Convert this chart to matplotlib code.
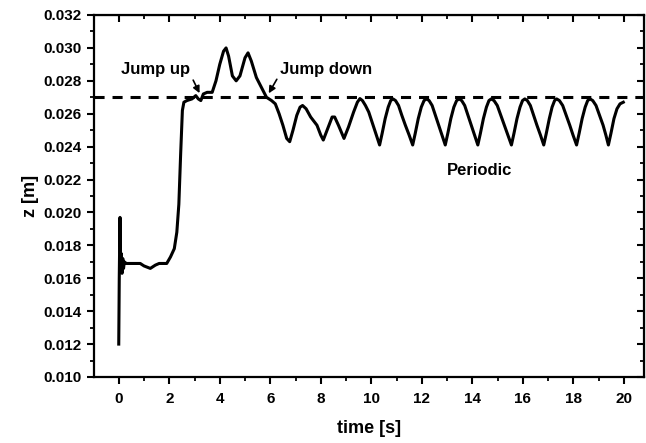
import matplotlib
matplotlib.use("Agg")
import matplotlib.pyplot as plt
from matplotlib.ticker import MultipleLocator, FormatStrFormatter

plt.rcParams['font.family'] = ['Liberation Sans', 'DejaVu Sans']

time_s = [0.00, 0.02, 0.05, 0.08, 0.10, 0.13, 0.16, 0.19, 0.22, 0.30, 0.60, 0.85, 1.00, 1.25, 1.45,
          1.60, 1.90, 2.05, 2.20, 2.30, 2.38, 2.45, 2.52, 2.58, 2.70, 2.90, 3.05, 3.15, 3.25, 3.35,
          3.50, 3.70, 3.85, 4.00, 4.15, 4.25, 4.35, 4.50, 4.65, 4.80, 5.00, 5.12, 5.25, 5.45, 5.65,
          5.85, 6.05, 6.20, 6.35, 6.50, 6.65, 6.77, 6.90, 7.05, 7.18, 7.28, 7.42, 7.60, 7.85, 8.00, 8.10,
          8.30, 8.45, 8.55, 8.70, 8.92, 9.10, 9.30, 9.45, 9.55,
          9.65, 9.77, 9.90, 10.03, 10.18, 10.33,
          10.43, 10.55, 10.67, 10.77, 10.86, 10.96, 11.08, 11.21, 11.35, 11.50, 11.64,
          11.74, 11.86, 11.98, 12.09, 12.19, 12.29, 12.41, 12.54, 12.67, 12.80, 12.93,
          13.03, 13.15, 13.27, 13.38, 13.48, 13.58, 13.70, 13.83, 13.96, 14.09, 14.22,
          14.32, 14.44, 14.56, 14.66, 14.75, 14.86, 14.99, 15.13, 15.27, 15.41, 15.55,
          15.65, 15.77, 15.89, 15.99, 16.08, 16.18, 16.30, 16.43, 16.56, 16.70, 16.83,
          16.93, 17.05, 17.16, 17.26, 17.34, 17.45, 17.58, 17.72, 17.86, 17.99, 18.13,
          18.23, 18.35, 18.47, 18.57, 18.66, 18.77, 18.90, 19.04, 19.18, 19.29, 19.39,
          19.49, 19.61, 19.73, 19.85, 19.98]

z_m = [0.0120, 0.0160, 0.0197, 0.0164, 0.0175, 0.0163, 0.0172, 0.0166, 0.0170, 0.0169, 0.0169, 0.0169, 0.01675, 0.0166, 0.0168,
       0.0169, 0.0169, 0.0173, 0.0178, 0.0188, 0.0205, 0.0235, 0.0262, 0.0267, 0.0268, 0.0269, 0.0271, 0.0269, 0.0268, 0.0272,
       0.0273, 0.0273, 0.0280, 0.0290, 0.0298, 0.0300, 0.0295, 0.0283, 0.0280, 0.0283, 0.0294, 0.0297, 0.0292, 0.0282, 0.0276,
       0.0270, 0.0268, 0.0266, 0.0260, 0.0253, 0.0245, 0.0243, 0.0250, 0.0259, 0.0264, 0.0265, 0.0263, 0.0258, 0.0253, 0.0247, 0.0244,
       0.0252, 0.0258, 0.0258, 0.0253, 0.0245, 0.0252, 0.0261, 0.0267, 0.02692,
       0.0268, 0.0265, 0.0261, 0.0255, 0.0248, 0.0241,
       0.0248, 0.0257, 0.0264, 0.02680, 0.02690, 0.02680, 0.0265, 0.0259, 0.0253, 0.0247, 0.0241,
       0.0248, 0.0257, 0.0264, 0.02680, 0.02690, 0.02680, 0.0265, 0.0259, 0.0253, 0.0247, 0.0241,
       0.0248, 0.0257, 0.0264, 0.02680, 0.02690, 0.02680, 0.0265, 0.0259, 0.0253, 0.0247, 0.0241,
       0.0248, 0.0257, 0.0264, 0.02680, 0.02690, 0.02680, 0.0265, 0.0259, 0.0253, 0.0247, 0.0241,
       0.0248, 0.0257, 0.0264, 0.02680, 0.02690, 0.02680, 0.0265, 0.0259, 0.0253, 0.0247, 0.0241,
       0.0248, 0.0257, 0.0264, 0.02680, 0.02690, 0.02680, 0.0265, 0.0259, 0.0253, 0.0247, 0.0241,
       0.0248, 0.0257, 0.0264, 0.02680, 0.02690, 0.02680, 0.0265, 0.0259, 0.0253, 0.0247, 0.0241,
       0.0248, 0.0257, 0.0263, 0.0266, 0.0267]

threshold = 0.027
x_ticks = list(range(0, 21, 2))
y_ticks = [0.010, 0.012, 0.014, 0.016, 0.018, 0.020, 0.022, 0.024, 0.026, 0.028, 0.030, 0.032]

fig = plt.figure(figsize=(6.46, 4.43), dpi=100)
ax = fig.add_axes([94 / 646, 1 - 377 / 443, (644 - 94) / 646, (377 - 15) / 443])

ax.plot(time_s, z_m, color='black', lw=2.2, solid_joinstyle='round')
ax.axhline(threshold, color='black', lw=2.2, dashes=(3.3, 2.6))

ax.set_xlim(-0.98, 20.8)
ax.set_ylim(0.010, 0.032)
ax.set_xticks(x_ticks)
ax.set_yticks(y_ticks)
ax.xaxis.set_minor_locator(MultipleLocator(1))
ax.yaxis.set_minor_locator(MultipleLocator(0.001))
ax.yaxis.set_major_formatter(FormatStrFormatter('%.3f'))

for s in ax.spines.values():
    s.set_linewidth(1.6)

ax.tick_params(which='major', direction='out', length=5, width=1.5, labelsize=11, pad=4)
ax.tick_params(which='minor', direction='out', length=3, width=1.3)
ax.tick_params(axis='x', which='major', pad=6)
for lab in ax.get_xticklabels() + ax.get_yticklabels():
    lab.set_fontweight('bold')

top = ax.secondary_xaxis('top')
top.set_xticks(x_ticks)
top.xaxis.set_minor_locator(MultipleLocator(1))
top.tick_params(which='major', direction='in', length=5, width=1.5, labeltop=False)
top.tick_params(which='minor', direction='in', length=3, width=1.3)
right = ax.secondary_yaxis('right')
right.set_yticks(y_ticks)
right.yaxis.set_minor_locator(MultipleLocator(0.001))
right.tick_params(which='major', direction='in', length=5, width=1.5, labelright=False)
right.tick_params(which='minor', direction='in', length=3, width=1.3)

ax.set_xlabel('time [s]', fontsize=13, fontweight='bold', labelpad=10)
ax.set_ylabel('z [m]', fontsize=13, fontweight='bold', labelpad=3)

ax.annotate('Jump up', xy=(3.2, 0.02725), xytext=(0.1, 0.02866), fontsize=12, fontweight='bold',
            va='center', ha='left',
            arrowprops=dict(arrowstyle='-|>', color='black', lw=1.2, mutation_scale=10,
                            shrinkA=0, shrinkB=0, relpos=(1.0, 0.2)))
ax.annotate('Jump down', xy=(5.94, 0.02724), xytext=(6.37, 0.02866), fontsize=12, fontweight='bold',
            va='center', ha='left',
            arrowprops=dict(arrowstyle='-|>', color='black', lw=1.2, mutation_scale=10,
                            shrinkA=0, shrinkB=0, relpos=(0.0, 0.2)))
ax.text(14.28, 0.02258, 'Periodic', fontsize=12, fontweight='bold', ha='center', va='center')

fig.savefig('out.png', dpi=100)
